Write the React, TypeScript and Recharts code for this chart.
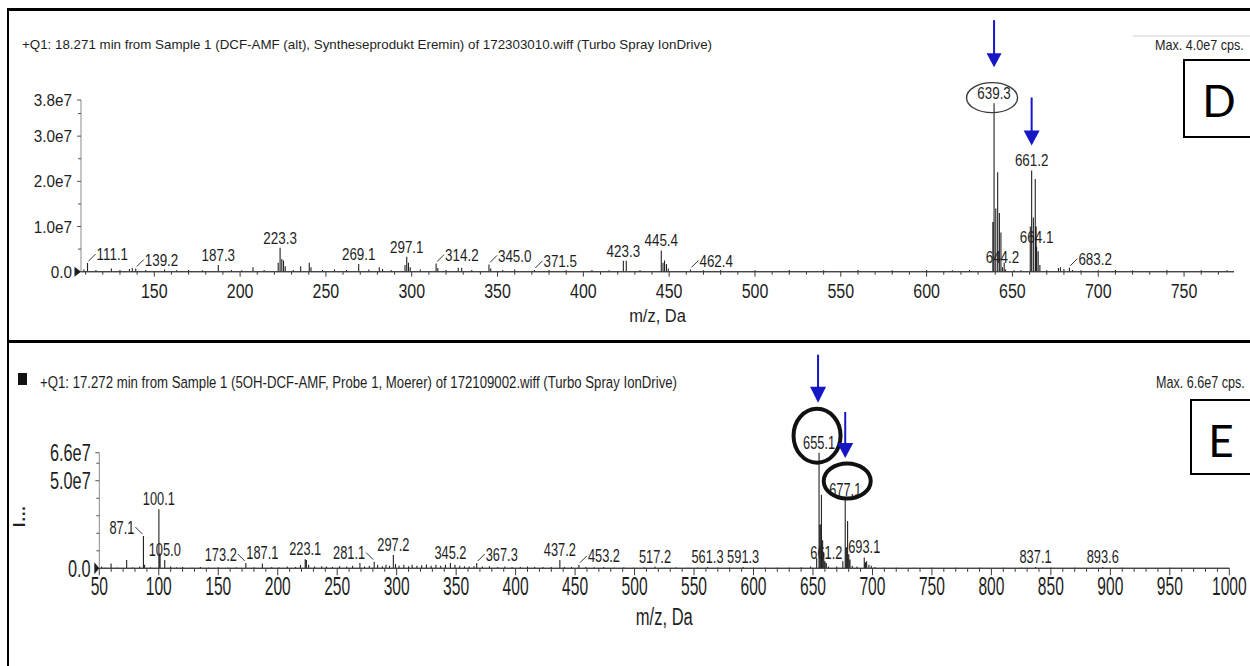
import React from 'react';
import { ComposedChart, Line, Scatter, XAxis, YAxis, ReferenceDot } from 'recharts';

const INK = '#1e1e1e';
const FONT = "'Liberation Sans', Arial, Helvetica, sans-serif";
const BLUE = '#1616c6';

// ---------- Panel D (intensities in units of 1e7 cps) ----------
const dMz = [109.0, 111.1, 116.0, 125.0, 130.0, 135.5, 137.2, 139.2, 145.0, 156.0, 163.0, 170.0, 178.0, 187.3, 195.0, 201.0, 207.5, 214.0, 222.2, 223.3, 224.3, 225.3, 226.3, 231.0, 235.3, 240.3, 241.3, 248.0, 255.0, 262.0, 269.1, 275.0, 281.1, 283.0, 288.0, 296.1, 297.1, 298.1, 299.1, 305.0, 314.2, 315.2, 320.0, 327.1, 329.1, 335.0, 345.0, 346.0, 353.0, 360.0, 371.5, 380.0, 390.0, 405.0, 415.0, 423.3, 425.0, 433.0, 445.4, 446.4, 447.3, 448.4, 449.5, 462.4, 470.0, 480.0, 500.0, 520.0, 540.0, 560.0, 580.0, 600.0, 615.0, 625.0, 638.6, 639.3, 640.3, 641.4, 642.4, 643.3, 644.2, 645.2, 646.0, 651.0, 655.0, 660.4, 661.2, 662.2, 663.3, 663.8, 664.1, 665.0, 666.0, 670.0, 676.8, 678.0, 680.0, 683.2, 685.0, 690.0, 700.0, 710.0, 720.0, 740.0, 760.0, 775.0];
const dInt = [0.05, 0.19, 0.04, 0.07, 0.04, 0.06, 0.08, 0.07, 0.04, 0.05, 0.03, 0.04, 0.03, 0.15, 0.04, 0.03, 0.10, 0.04, 0.20, 0.53, 0.28, 0.25, 0.12, 0.04, 0.12, 0.20, 0.10, 0.04, 0.05, 0.04, 0.17, 0.05, 0.10, 0.06, 0.04, 0.15, 0.33, 0.20, 0.10, 0.05, 0.18, 0.08, 0.04, 0.09, 0.09, 0.04, 0.16, 0.07, 0.04, 0.05, 0.04, 0.04, 0.03, 0.04, 0.03, 0.24, 0.24, 0.04, 0.47, 0.20, 0.25, 0.17, 0.07, 0.05, 0.03, 0.04, 0.03, 0.04, 0.03, 0.04, 0.03, 0.04, 0.03, 0.04, 1.10, 3.73, 1.40, 2.20, 1.30, 0.87, 0.10, 0.20, 0.05, 0.03, 0.03, 1.00, 2.24, 1.20, 2.05, 1.00, 0.55, 0.45, 0.15, 0.03, 0.08, 0.10, 0.06, 0.09, 0.04, 0.03, 0.03, 0.04, 0.03, 0.04, 0.03, 0.03];
const dLabels = [111.1, 139.2, 187.3, 223.3, 269.1, 297.1, 314.2, 345.0, 371.5, 423.3, 445.4, 462.4, 639.3, 644.2, 661.2, 664.1, 683.2];
const dLeadRight = [111.1, 139.2, 314.2, 345.0, 371.5, 462.4, 683.2];
const dLeadLeft: number[] = [];
const dXMajor = [150, 200, 250, 300, 350, 400, 450, 500, 550, 600, 650, 700, 750];
const dYMajor = [0, 1, 2, 3, 3.8];
const dYMinor = [0.5, 1.5, 2.5, 3.5];

// ---------- Panel E ----------
const eMz = [52.0, 55.0, 59.9, 65.0, 73.0, 78.0, 84.0, 87.1, 88.1, 93.0, 100.1, 101.1, 105.0, 110.0, 115.0, 120.0, 128.0, 135.0, 142.0, 150.0, 158.0, 165.0, 173.2, 180.0, 187.1, 195.0, 201.0, 208.0, 215.0, 219.1, 223.1, 224.1, 226.0, 231.0, 237.0, 241.0, 246.0, 252.0, 258.0, 263.0, 269.1, 273.0, 277.0, 281.1, 284.0, 288.0, 291.0, 294.0, 297.2, 299.0, 302.0, 306.0, 310.0, 313.0, 317.0, 321.0, 325.0, 329.0, 333.0, 337.0, 341.0, 345.2, 349.0, 353.0, 357.0, 361.0, 365.0, 367.3, 372.0, 378.0, 385.0, 391.0, 397.0, 404.0, 410.0, 416.0, 423.0, 430.0, 437.2, 441.0, 447.0, 453.2, 459.0, 466.0, 474.0, 483.0, 491.0, 499.0, 508.0, 517.2, 525.0, 535.0, 545.0, 553.0, 561.3, 570.0, 580.0, 591.3, 600.0, 610.0, 620.0, 630.0, 640.0, 648.0, 653.1, 655.1, 656.1, 657.1, 658.1, 659.1, 660.1, 661.2, 663.0, 670.0, 675.1, 677.1, 678.1, 679.1, 680.1, 681.1, 683.0, 687.0, 693.1, 694.1, 695.1, 697.0, 699.0, 702.0, 710.0, 720.0, 735.0, 750.0, 770.0, 790.0, 810.0, 825.0, 837.1, 850.0, 870.0, 893.6, 910.0, 930.0, 950.0, 970.0, 990.0];
const eInt = [0.10, 0.05, 0.28, 0.05, 0.47, 0.06, 0.10, 1.84, 0.20, 0.06, 3.37, 0.85, 0.47, 0.10, 0.06, 0.08, 0.05, 0.07, 0.05, 0.06, 0.05, 0.06, 0.30, 0.06, 0.28, 0.08, 0.06, 0.10, 0.08, 0.19, 0.51, 0.47, 0.20, 0.10, 0.12, 0.10, 0.08, 0.12, 0.10, 0.15, 0.30, 0.10, 0.15, 0.38, 0.20, 0.12, 0.20, 0.15, 0.76, 0.25, 0.15, 0.20, 0.12, 0.20, 0.15, 0.18, 0.22, 0.15, 0.20, 0.15, 0.20, 0.30, 0.20, 0.15, 0.12, 0.10, 0.12, 0.30, 0.10, 0.12, 0.08, 0.10, 0.08, 0.08, 0.10, 0.07, 0.08, 0.07, 0.47, 0.08, 0.07, 0.20, 0.07, 0.06, 0.07, 0.05, 0.06, 0.05, 0.06, 0.10, 0.05, 0.06, 0.05, 0.05, 0.08, 0.05, 0.05, 0.08, 0.05, 0.05, 0.05, 0.05, 0.06, 0.10, 0.60, 6.60, 2.50, 4.20, 1.60, 0.90, 0.40, 0.30, 0.10, 0.10, 0.40, 3.90, 1.20, 2.70, 0.80, 0.50, 0.15, 0.10, 0.62, 0.35, 0.40, 0.20, 0.15, 0.08, 0.05, 0.05, 0.04, 0.05, 0.04, 0.04, 0.04, 0.04, 0.08, 0.04, 0.04, 0.08, 0.04, 0.03, 0.04, 0.03, 0.03];
const eLabels = [87.1, 100.1, 105.0, 173.2, 187.1, 223.1, 281.1, 297.2, 345.2, 367.3, 437.2, 453.2, 517.2, 561.3, 591.3, 655.1, 661.2, 677.1, 693.1, 837.1, 893.6];
const eLeadLeft = [87.1, 173.2, 281.1];
const eLeadRight = [367.3, 453.2];
const eXMajor = [50, 100, 150, 200, 250, 300, 350, 400, 450, 500, 550, 600, 650, 700, 750, 800, 850, 900, 950, 1000];
const eYMajor = [0, 5, 6.6];
const eYMinor = [1, 2, 3, 4, 6];

const minorTicks = (lo: number, hi: number, major: number[]) => {
  const out: number[] = [];
  for (let v = lo; v <= hi; v += 10) if (!major.includes(v)) out.push(v);
  return out;
};

function ST({ x, y, size, sx = 1, anchor = 'start', weight, children }: any) {
  return (
    <text transform={`translate(${x},${y}) scale(${sx},1)`} fontSize={size} fontFamily={FONT}
      textAnchor={anchor} fill={INK} fontWeight={weight}>{children}</text>
  );
}

const yFmt = (v: number) => (v === 0 ? '0.0' : v.toFixed(1) + 'e7');

function Arrow({ x, tip, top, hw, hh }: any) {
  return (
    <g>
      <line x1={x} x2={x} y1={top} y2={tip - hh + 1} stroke={BLUE} strokeWidth={2} />
      <polygon points={`${x - hw},${tip - hh} ${x + hw},${tip - hh} ${x},${tip}`} fill={BLUE} />
    </g>
  );
}

function Panel(props: any) {
  const { top, height, margin, xDomain, xMajor, xMinor, yMax, yMajor, yMinor, mz, inten, labels, leadLeft, leadRight, st, annots } = props;
  const line: { mz: number; h: number }[] = [{ mz: xDomain[0], h: 0 }];
  mz.forEach((m: number, i: number) => {
    line.push({ mz: m, h: 0 });
    line.push({ mz: m, h: inten[i] });
    line.push({ mz: m, h: 0 });
  });
  line.push({ mz: xDomain[1], h: 0 });
  const lab = labels.map((m: number) => ({ mz: m, h: inten[mz.indexOf(m)] }));
  const xTicks = [...xMinor, ...xMajor].sort((a, b) => a - b);
  const yTicks = [...yMinor, ...yMajor].sort((a, b) => a - b);

  const xTick = (p: any) => {
    const v = p.payload.value;
    const major = xMajor.includes(v);
    return (
      <g>
        <line x1={p.x} x2={p.x} y1={p.y} y2={p.y + (major ? st.xMaj : st.xMin)} stroke="#3a3a3a" strokeWidth={1} />
        {major && <ST x={p.x} y={p.y + st.xDy} size={st.xF} sx={st.xSx} anchor="middle">{String(v)}</ST>}
      </g>
    );
  };
  const yTick = (p: any) => {
    const v = p.payload.value;
    const major = yMajor.includes(v);
    return (
      <g>
        <line x1={p.x - (major ? st.yMaj : st.yMin)} x2={p.x} y1={p.y} y2={p.y} stroke="#555" strokeWidth={1} />
        {major && <ST x={p.x - st.yGap} y={p.y + 0.36 * st.yF} size={st.yF} sx={st.ySx} anchor="end">{yFmt(v)}</ST>}
        {v === 0 && <polygon points={`${p.x - st.triW},${p.y - st.triH / 2} ${p.x},${p.y} ${p.x - st.triW},${p.y + st.triH / 2}`} fill={INK} />}
      </g>
    );
  };
  const labelShape = (p: any) => {
    const { cx, cy, payload } = p;
    const t = payload.mz.toFixed(1);
    const base = cy - 9 + 0.36 * st.lF;
    if (leadRight.includes(payload.mz)) {
      return (
        <g>
          <line x1={cx + 1} y1={cy - 2} x2={cx + 8} y2={cy - 9} stroke="#333" strokeWidth={1} />
          <ST x={cx + 9} y={base} size={st.lF} sx={st.lSx}>{t}</ST>
        </g>
      );
    }
    if (leadLeft.includes(payload.mz)) {
      return (
        <g>
          <line x1={cx - 1} y1={cy - 2} x2={cx - 8} y2={cy - 9} stroke="#333" strokeWidth={1} />
          <ST x={cx - 9} y={base} size={st.lF} sx={st.lSx} anchor="end">{t}</ST>
        </g>
      );
    }
    return <ST x={cx} y={cy - st.lOff} size={st.lF} sx={st.lSx} anchor="middle">{t}</ST>;
  };

  return (
    <div style={{ position: 'absolute', left: 0, top, width: 1250, height }}>
      <ComposedChart width={1250} height={height} data={line} margin={margin}>
        <XAxis type="number" dataKey="mz" domain={xDomain} ticks={xTicks} interval={0} height={30}
          tickLine={false} tickSize={0} tickMargin={0} axisLine={{ stroke: '#444', strokeWidth: 1 }} tick={xTick} />
        <YAxis type="number" domain={[0, yMax]} ticks={yTicks} interval={0} width={60}
          tickLine={false} tickSize={0} tickMargin={0} axisLine={{ stroke: '#8a8a8a', strokeWidth: 1 }} tick={yTick} />
        <Line type="linear" dataKey="h" stroke="#222" strokeWidth={1.1} dot={false} activeDot={false} isAnimationActive={false} />
        <Scatter data={lab} dataKey="h" shape={labelShape} isAnimationActive={false} />
        {annots.map((a: any, i: number) => (
          <ReferenceDot key={i} x={a.x} y={a.y} ifOverflow="visible" shape={(p: any) => a.draw(p.cx, p.cy)} />
        ))}
      </ComposedChart>
    </div>
  );
}

const stD = { xF: 19.5, xSx: 0.82, xDy: 26, xMaj: 5, xMin: 3, yF: 17, ySx: 0.9, yGap: 9, yMaj: 4, yMin: 3, triW: 6.5, triH: 10, lF: 17.2, lSx: 0.78, lOff: 4 };
const stE = { xF: 26, xSx: 0.6, xDy: 26.7, xMaj: 7, xMin: 3.5, yF: 23.3, ySx: 0.7, yGap: 8.6, yMaj: 4, yMin: 3, triW: 5, triH: 12, lF: 18.6, lSx: 0.69, lOff: 4 };

const dAnnots = [
  {
    x: 639.3, y: 3.73, draw: (cx: number, cy: number) => (
      <g>
        <ellipse cx={cx - 2} cy={cy - 5.5} rx={25.5} ry={15} fill="none" stroke="#3a3a3a" strokeWidth={1.4} />
        <Arrow x={cx} tip={cy - 36} top={cy - 83} hw={7.5} hh={14} />
      </g>
    ),
  },
  { x: 661.2, y: 2.24, draw: (cx: number, cy: number) => <Arrow x={cx} tip={cy - 25} top={cy - 73} hw={8} hh={15} /> },
];
const eAnnots = [
  {
    x: 655.1, y: 6.6, draw: (cx: number, cy: number) => (
      <g>
        <ellipse cx={cx - 2} cy={cy - 17} rx={23.5} ry={27} fill="none" stroke="#111" strokeWidth={4} />
        <Arrow x={cx - 1} tip={cy - 50} top={cy - 98} hw={8} hh={16} />
      </g>
    ),
  },
  {
    x: 677.1, y: 3.9, draw: (cx: number, cy: number) => (
      <g>
        <ellipse cx={cx + 2} cy={cy - 19} rx={23.5} ry={17.5} fill="none" stroke="#111" strokeWidth={4} />
        <Arrow x={cx} tip={cy - 42} top={cy - 88} hw={8} hh={15} />
      </g>
    ),
  },
];

export default function App() {
  return (
    <div style={{ position: 'absolute', left: 0, top: 0, width: 1250, height: 666, background: '#fff', overflow: 'hidden' }}>
      <Panel top={0} height={340} margin={{ top: 100, left: 21, right: 16, bottom: 38.3 }}
        xDomain={[107.3, 779.1]} xMajor={dXMajor} xMinor={minorTicks(110, 770, dXMajor)}
        yMax={3.8} yMajor={dYMajor} yMinor={dYMinor}
        mz={dMz} inten={dInt} labels={dLabels} leadLeft={dLeadLeft} leadRight={dLeadRight}
        st={stD} annots={dAnnots} />
      <Panel top={340} height={326} margin={{ top: 112.7, left: 39.3, right: 20.7, bottom: 67.7 }}
        xDomain={[50, 1000]} xMajor={eXMajor} xMinor={minorTicks(60, 990, eXMajor)}
        yMax={6.6} yMajor={eYMajor} yMinor={eYMinor}
        mz={eMz} inten={eInt} labels={eLabels} leadLeft={eLeadLeft} leadRight={eLeadRight}
        st={stE} annots={eAnnots} />
      <svg width={1250} height={666} style={{ position: 'absolute', left: 0, top: 0, pointerEvents: 'none' }}>
        {/* frames */}
        <rect x={8} y={8} width={1242} height={3} fill="#000" />
        <rect x={7} y={8} width={2} height={334} fill="#000" />
        <rect x={8} y={340} width={1242} height={3} fill="#000" />
        <rect x={7} y={340} width={2} height={326} fill="#000" />
        {/* panel D header */}
        <text x={22} y={48.5} fontSize={13} fontFamily={FONT} fill={INK} textLength={690} lengthAdjust="spacingAndGlyphs">
          +Q1: 18.271 min from Sample 1 (DCF-AMF (alt), Syntheseprodukt Eremin) of 172303010.wiff (Turbo Spray IonDrive)
        </text>
        <line x1={1133} x2={1250} y1={36} y2={36} stroke="#cfcfcf" strokeWidth={1} />
        <ST x={1155} y={49.5} size={14} sx={0.9}>Max. 4.0e7 cps.</ST>
        <rect x={1184} y={60} width={80} height={77} fill="none" stroke="#000" strokeWidth={2} />
        <text x={1219} y={117} fontSize={44} fontFamily="Lato, 'Open Sans', sans-serif" textAnchor="middle" fill="#000">D</text>
        <ST x={657.5} y={321.7} size={18.7} sx={0.88} anchor="middle">m/z, Da</ST>
        {/* panel E header */}
        <rect x={18} y={373} width={9} height={12} fill="#111" />
        <text x={40} y={388} fontSize={16.8} fontFamily={FONT} fill={INK} textLength={637} lengthAdjust="spacingAndGlyphs">
          +Q1: 17.272 min from Sample 1 (5OH-DCF-AMF, Probe 1, Moerer) of 172109002.wiff (Turbo Spray IonDrive)
        </text>
        <ST x={1156} y={388} size={17} sx={0.74}>Max. 6.6e7 cps.</ST>
        <rect x={1191} y={400} width={80} height={74} fill="none" stroke="#000" strokeWidth={2} />
        <text x={1221} y={457} fontSize={44} fontFamily="Lato, 'Open Sans', sans-serif" textAnchor="middle" fill="#000">E</text>
        <ST x={664.3} y={625} size={23.3} sx={0.71} anchor="middle">m/z, Da</ST>
        <text transform="translate(25,527) rotate(-90)" fontSize={16} fontWeight="bold" fontFamily={FONT} fill={INK} letterSpacing={1}>I...</text>
      </svg>
    </div>
  );
}
